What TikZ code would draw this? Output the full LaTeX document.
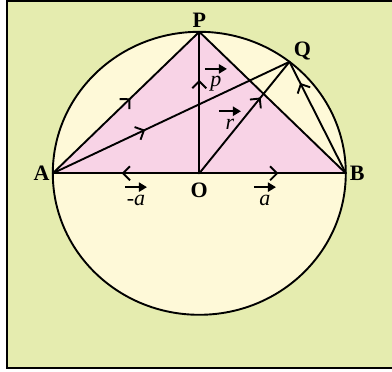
\documentclass[tikz,border=0pt]{standalone}
\usepackage{fontspec}
\setmainfont{Liberation Serif}
\usetikzlibrary{positioning, arrows.meta, decorations.markings, calc}
\definecolor{bgGreen}{HTML}{E5ECAF}
\definecolor{discCream}{HTML}{FEF9D8}
\definecolor{triPink}{HTML}{F8D3E6}
\tikzset{
  every node/.style={font=\fontsize{22}{24}\selectfont},
  seg/.style={line width=1.9pt, line cap=round},
  midarr/.style={postaction={decorate, decoration={markings,
    mark=at position #1 with {\arrow{Straight Barb[length=7pt, width=14pt, line width=1.9pt]}}}}},
  pname/.style={font=\fontsize{22}{24}\selectfont\bfseries, inner sep=1pt},
  vlab/.style={inner sep=0pt, align=center, font=\fontsize{22}{24}\selectfont\itshape},
}
\newcommand{\varr}{\tikz[baseline=-3pt]\draw[line width=2.4pt, -{Triangle[length=8pt, width=9pt]}] (0,0) -- (22pt,0);}

\begin{document}
\begin{tikzpicture}[x=1pt, y=1pt]
  \useasboundingbox (-199.3,-198.7) rectangle (192.7,173.3);
  % frame
  \fill[bgGreen] (-192.3,172.3) rectangle (192.7,-194.7);
  \draw[line width=1.8pt] (192.7,172.3) -- (-192.3,172.3) -- (-192.3,-194.7) -- (192.7,-194.7);
  % points on the circle
  \coordinate (O) at (0,0);
  \coordinate (A) at (-146.5,0);
  \coordinate (B) at (146.5,0);
  \coordinate (P) at (0,141.5);
  \coordinate (Q) at (52:146.5 and 141.5);
  \fill[discCream] (O) ellipse (146.5 and 141.5);
  \fill[triPink] (A) -- (P) -- (B) -- cycle;
  \draw[seg] (O) ellipse (146.5 and 141.5);
  % chords and radii
  \draw[seg, midarr=0.53] (A) -- (P);
  \draw[seg] (P) -- (B);
  \draw[seg, midarr=0.39] (A) -- (Q);
  \draw[seg, midarr=0.66] (O) -- (P);
  \draw[seg, midarr=0.68] (O) -- (Q);
  \draw[seg, midarr=0.81] (B) -- (Q);
  \draw[seg, midarr=0.53] (O) -- (A);
  \draw[seg, midarr=0.54] (O) -- (B);
  % labels
  \node[pname, above=3pt of P] (labP) {P};
  \node[pname] (labQ) at ($(Q)+(13,11)$) {Q};
  \node[pname, left=2pt of A] (labA) {A};
  \node[pname, right=3pt of B] (labB) {B};
  \node[pname, below=8pt of O] (labO) {O};
  \node[vlab] (labp) at (16.7,95.3) {\varr\\[-9pt]p};
  \node[vlab] (labr) at (30.7,55.3) {\varr\\[-9pt]r};
  \node[vlab] (labma) at (-63.3,-20.7) {\varr\\[-9pt]-a};
  \node[vlab] (laba) at (65.7,-20.7) {\varr\\[-9pt]a};
\end{tikzpicture}
\end{document}
